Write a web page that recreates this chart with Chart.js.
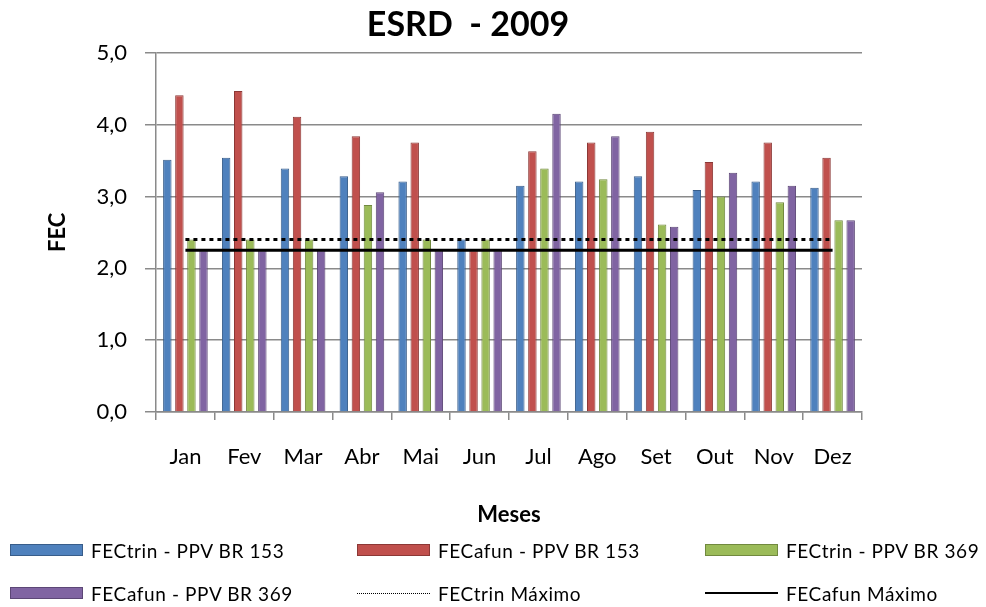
<!DOCTYPE html>
<html>
<head>
<meta charset="utf-8">
<script src="https://cdn.jsdelivr.net/npm/chart.js@4"></script>
<style>
    body { margin: 0; background: #fff; }
    #wrap { position: relative; width: 986px; height: 607px; }
    #legenda { position: absolute; left: 0; top: 0; width: 986px; height: 607px; pointer-events: none; font-family: Lato, sans-serif; font-size: 19px; letter-spacing: 0.6px; color: #000; }
    .item { position: absolute; display: flex; align-items: center; height: 24px; white-space: pre; }
    .caixa { width: 71px; height: 10px; margin-right: 8px; }
</style>
</head>
<body>
<div id="wrap">
    <canvas id="fecChart" width="986" height="607"></canvas>
    <div id="legenda"></div>
</div>
<script>
// Dados
const meses = ['Jan', 'Fev', 'Mar', 'Abr', 'Mai', 'Jun', 'Jul', 'Ago', 'Set', 'Out', 'Nov', 'Dez'];
const fecTrinBR153 = [3.51, 3.54, 3.39, 3.28, 3.21, 2.40, 3.15, 3.21, 3.28, 3.09, 3.21, 3.12];
const fecAfunBR153 = [4.41, 4.47, 4.11, 3.84, 3.75, 2.25, 3.63, 3.75, 3.90, 3.48, 3.75, 3.54];
const fecTrinBR369 = [2.40, 2.40, 2.40, 2.88, 2.40, 2.40, 3.39, 3.24, 2.61, 3.00, 2.92, 2.67];
const fecAfunBR369 = [2.25, 2.25, 2.25, 3.06, 2.25, 2.25, 4.15, 3.84, 2.58, 3.33, 3.15, 2.67];
const fecTrinMax = [2.40, 2.40, 2.40, 2.40, 2.40, 2.40, 2.40, 2.40, 2.40, 2.40, 2.40, 2.40];
const fecAfunMax = [2.25, 2.25, 2.25, 2.25, 2.25, 2.25, 2.25, 2.25, 2.25, 2.25, 2.25, 2.25];
const yTicks = [0, 1, 2, 3, 4, 5];

const corGrade = '#8a8a8a';

function barra(label, data, fundo, borda) {
    return {
        type: 'bar',
        label: label,
        data: data,
        backgroundColor: fundo,
        borderColor: borda,
        borderWidth: 1,
        barPercentage: 0.7,
        categoryPercentage: 0.82,
        order: 1,
    };
}

function linha(label, data, dash) {
    return {
        type: 'line',
        label: label,
        data: data,
        borderColor: '#000',
        backgroundColor: '#000',
        borderWidth: 3,
        borderDash: dash,
        pointRadius: 0,
        fill: false,
        order: 0,
    };
}

function createFecChart() {
    Chart.defaults.font.family = 'Lato, sans-serif';
    Chart.defaults.color = '#000';

    const ctx = document.getElementById('fecChart').getContext('2d');
    const chartData = {
        labels: meses,
        datasets: [
            barra('FECtrin - PPV BR 153', fecTrinBR153, '#4F81BD', '#385D8A'),
            barra('FECafun - PPV BR 153', fecAfunBR153, '#C0504D', '#8C3836'),
            barra('FECtrin - PPV BR 369', fecTrinBR369, '#9BBB59', '#71893F'),
            barra('FECafun - PPV BR 369', fecAfunBR369, '#8064A2', '#5C4776'),
            linha('FECtrin Máximo', fecTrinMax, [4, 4]),
            linha('FECafun Máximo', fecAfunMax, []),
        ],
    };
    const chartOptions = {
        responsive: false,
        animation: false,
        layout: {
            padding: { left: 0, right: 50, top: 0, bottom: 75 },
        },
        plugins: {
            legend: { display: false },
            tooltip: { enabled: false },
            title: {
                display: true,
                text: 'ESRD  - 2009',
                font: { size: 34, weight: 'bold' },
                padding: { top: 5, bottom: 7 },
            },
        },
        scales: {
            x: {
                offset: true,
                grid: {
                    offset: true,
                    drawOnChartArea: false,
                    drawTicks: true,
                    tickLength: 8,
                    color: corGrade,
                    lineWidth: 1.5,
                },
                border: { display: true, color: corGrade, width: 1.5 },
                ticks: { font: { size: 22 }, padding: 24 },
                title: {
                    display: true,
                    text: 'Meses',
                    font: { size: 22, weight: 'bold' },
                    padding: { top: 0, bottom: 4 },
                },
                afterFit: (s) => { s.height = 120; },
            },
            y: {
                min: 0,
                max: 5,
                afterBuildTicks: (s) => { s.ticks = yTicks.map((v) => ({ value: v })); },
                grid: { color: corGrade, lineWidth: 1.5, tickLength: 11 },
                border: { display: true, color: corGrade, width: 1.5 },
                ticks: {
                    font: { size: 22 },
                    padding: 18,
                    callback: (v) => v.toFixed(1).replace('.', ','),
                },
                title: {
                    display: true,
                    text: 'FEC',
                    font: { size: 22, weight: 'bold' },
                    padding: { top: 45, bottom: 0 },
                },
                afterFit: (s) => { s.width = 156; },
            },
            // eixo vazio só para deixar espaço à direita
            y2: {
                position: 'right',
                display: true,
                grid: { display: false },
                border: { display: false },
                ticks: { display: false },
                afterFit: (s) => { s.width = 74; },
            },
        },
    };

    const chart = new Chart(ctx, {
        data: chartData,
        options: chartOptions,
    });
    return chart;
}

// Legenda em HTML, 3 colunas
function createLegend(chart) {
    const cols = [10, 357, 705];
    const rows = [538, 581];
    const box = document.getElementById('legenda');
    chart.data.datasets.forEach((ds, i) => {
        const item = document.createElement('div');
        item.className = 'item';
        item.style.left = cols[i % 3] + 'px';
        item.style.top = rows[Math.floor(i / 3)] + 'px';
        const sw = document.createElement('div');
        sw.className = 'caixa';
        if (ds.type === 'bar') {
            sw.style.background = ds.backgroundColor;
            sw.style.border = '1px solid ' + ds.borderColor;
        } else if (ds.borderDash.length) {
            sw.style.height = '0';
            sw.style.width = '73px';
            sw.style.borderTop = '1px dotted #000';
        } else {
            sw.style.height = '0';
            sw.style.width = '73px';
            sw.style.borderTop = '2px solid #000';
        }
        const txt = document.createElement('span');
        txt.textContent = ds.label;
        item.appendChild(sw);
        item.appendChild(txt);
        box.appendChild(item);
    });
}

const fecChart = createFecChart();
createLegend(fecChart);
</script>
</body>
</html>
